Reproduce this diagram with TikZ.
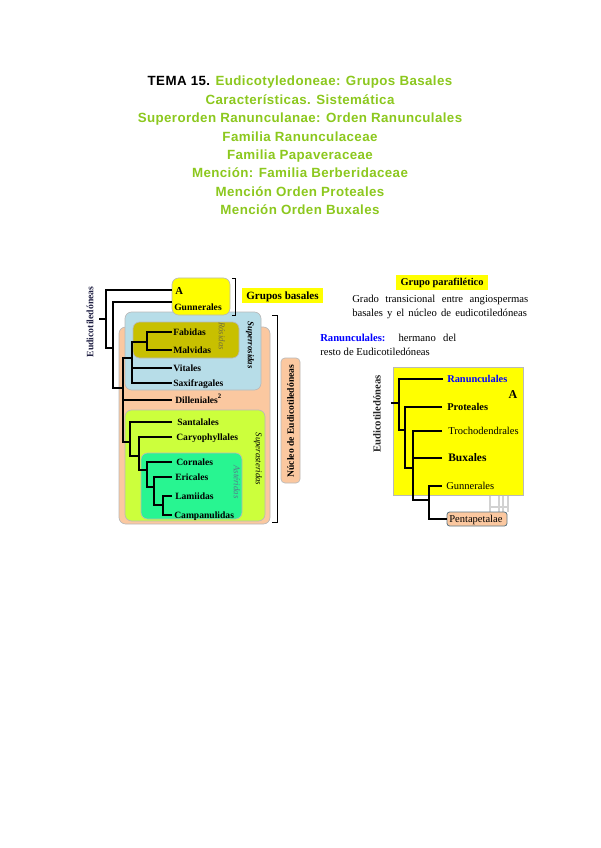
\documentclass[tikz,border=0pt]{standalone}
\usepackage{fontspec}
\setmainfont{Liberation Serif}
\newfontfamily\titlefont[LetterSpace=3]{Liberation Sans}
\definecolor{tgreen}{RGB}{140,200,30}
\definecolor{salmon}{RGB}{251,200,160}
\definecolor{lblue}{RGB}{183,221,232}
\definecolor{olive}{RGB}{200,192,0}
\definecolor{lime}{RGB}{204,255,60}
\definecolor{sgreen}{RGB}{40,245,145}
\definecolor{byellow}{RGB}{255,255,0}
\definecolor{navyd}{RGB}{35,35,70}
\definecolor{rostext}{RGB}{115,112,60}
\definecolor{asttext}{RGB}{85,120,140}
\begin{document}
\begin{tikzpicture}[x=0.75pt,y=-0.75pt,
  title/.style={anchor=base,inner sep=0,font=\titlefont\bfseries\fontsize{10}{12}\selectfont,text=tgreen},
  lbl/.style={anchor=base west,inner sep=0,font=\bfseries\fontsize{7.2}{8}\selectfont},
  rlbl/.style={anchor=base west,inner sep=0,font=\fontsize{7.9}{9}\selectfont},
  para/.style={anchor=base west,inner sep=0,font=\fontsize{8}{9}\selectfont},
  rot/.style={inner sep=0,font=\itshape\fontsize{6.6}{7}\selectfont},
  box/.style={draw=gray!55,line width=0.5pt,rounded corners=5pt},
  br/.style={line width=0.8pt,black}]
\useasboundingbox (0,0) rectangle (600,848);
\fill[white] (0,0) rectangle (600,848);

% ---------- title ----------
\node[title] (t1) at (300,85.7) {\textcolor{black}{TEMA 15.} Eudicotyledoneae: Grupos Basales};
\node[title] (t2) at (300,104.2) {Características. Sistemática};
\node[title] (t3) at (300,122.6) {Superorden Ranunculanae: Orden Ranunculales};
\node[title] (t4) at (300,141.1) {Familia Ranunculaceae};
\node[title] (t5) at (300,159.5) {Familia Papaveraceae};
\node[title] (t6) at (300,178.0) {Mención: Familia Berberidaceae};
\node[title] (t7) at (300,196.5) {Mención Orden Proteales};
\node[title] (t8) at (300,215.0) {Mención Orden Buxales};

% ---------- left diagram boxes ----------
\draw[box,fill=salmon] (119,327) rectangle (270,524);
\draw[box,fill=lblue] (125,312) rectangle (261,390);
\draw[box,fill=olive] (133,322) rectangle (239,358);
\draw[box,fill=lime] (125,410) rectangle (265,521);
\draw[box,fill=sgreen] (141,453) rectangle (242,519);
\draw[box,fill=byellow] (172,278) rectangle (230,315);
\node[fill=byellow,minimum width=60.75pt,minimum height=11.25pt,inner sep=0] (gb) at (282.5,295.5) {};
\node[anchor=base,inner sep=0,font=\bfseries\fontsize{8.3}{9}\selectfont] at (282.5,299) {Grupos basales};
\draw[box,fill=salmon,rounded corners=3pt] (281,358) rectangle (300,483);

% brackets
\draw[line width=0.7pt] (232,278) -- (235,278) -- (235,315) -- (232,315);
\draw[line width=0.7pt] (272,315) -- (277,315) -- (277,522) -- (272,522);

% rotated labels
\node[inner sep=0,rotate=90,font=\bfseries\fontsize{7.3}{8}\selectfont,text=navyd] (eud) at (90,322) {Eudicotiledóneas};
\node[rot,rotate=-90,text=rostext] (ros) at (222,336) {Rósidas};
\node[rot,rotate=-90,font=\bfseries\itshape\fontsize{6.6}{7}\selectfont] (sros) at (250,345) {Superrosidas};
\node[rot,rotate=-90] (sast) at (258,459) {Superasteridas};
\node[rot,rotate=-90,text=asttext] (ast) at (237,482) {Astéridas};
\node[inner sep=0,rotate=90,font=\bfseries\fontsize{7.2}{8}\selectfont] (nuc) at (290.5,421) {Núcleo de Eudicotiledóneas};

% ---------- left tree ----------
\coordinate (rootL) at (99,319);
\draw[br] (rootL) -- (106,319);
\draw[br] (172,290) -- (106,290) -- (106,348) -- (113,348);
\draw[br] (172,302) -- (113,302) -- (113,388) -- (123,388);
\draw[br] (132,358) -- (123,358) -- (123,442) -- (130,442);
\draw[br] (123,400) -- (172,400);
\draw[br] (147,342) -- (132,342) -- (132,383) -- (172,383);
\draw[br] (132,368) -- (172,368);
\draw[br] (172,332) -- (147,332) -- (147,350) -- (172,350);
\draw[br] (172,422) -- (130,422) -- (130,456) -- (139,456);
\draw[br] (172,437) -- (139,437) -- (139,470) -- (147,470);
\draw[br] (172,462) -- (147,462) -- (147,487) -- (154,487);
\draw[br] (172,477) -- (154,477) -- (154,505) -- (163,505);
\draw[br] (172,496) -- (163,496) -- (163,515) -- (172,515);

% left labels
\node[lbl,font=\bfseries\fontsize{8}{9}\selectfont] (A1) at (175,294) {A};
\node[lbl] (gun) at (174,310) {Gunnerales};
\node[lbl] (fab) at (173,335) {Fabidas};
\node[lbl] (mal) at (173,353) {Malvidas};
\node[lbl] (vit) at (173,371) {Vitales};
\node[lbl] (sax) at (173,386) {Saxifragales};
\node[lbl] (dil) at (175,403) {Dilleniales\textsuperscript{2}};
\node[lbl] (san) at (177,425) {Santalales};
\node[lbl] (car) at (176,440) {Caryophyllales};
\node[lbl] (cor) at (176,465) {Cornales};
\node[lbl] (eri) at (175,480) {Ericales};
\node[lbl] (lam) at (175,499) {Lamiidas};
\node[lbl] (cam) at (174,518) {Campanulidas};

% ---------- right texts ----------
\node[fill=byellow,minimum width=69pt,minimum height=11.5pt,inner sep=0] (gp) at (442,282.5) {};
\node[anchor=base,inner sep=0,font=\bfseries\fontsize{7.8}{8}\selectfont] at (442,285.8) {Grupo parafilético};
\node[para] (p1) at (352,302.3) {\makebox[132pt][s]{Grado transicional entre angiospermas}};
\node[para] (p2) at (352,316.7) {\makebox[131pt][s]{basales y el núcleo de eudicotiledóneas}};
\node[para] (p3) at (320,341.7) {\makebox[102pt][s]{\textcolor{blue}{\bfseries Ranunculales:} hermano del}};
\node[para] (p4) at (320,355.7) {resto de Eudicotiledóneas};

% ---------- right diagram ----------
\draw[draw=gray!35,line width=0.8pt] (490,495) -- (490,512) (499,495) -- (499,512) (503,495) -- (503,512) (508,495) -- (508,512) (490,507) -- (508,507);
\draw[draw=gray!55,line width=0.5pt,fill=byellow] (393,367) rectangle (523,495);
\draw[fill=salmon,draw=gray!50!cyan!60!black,line width=0.6pt,rounded corners=2pt] (447,512) rectangle (507,526);
\node[inner sep=0,rotate=90,font=\bfseries\fontsize{8}{9}\selectfont,text=black!85] (eud2) at (377,414) {Eudicotiledóneas};
\node[anchor=base,inner sep=0,font=\bfseries\fontsize{9}{10}\selectfont] (A2) at (513,398) {A};

\coordinate (rootR) at (391,403);
\draw[br] (rootR) -- (399,403);
\draw[br] (443,379) -- (399,379) -- (399,430) -- (405,430);
\draw[br] (442,407) -- (405,407) -- (405,468) -- (413,468);
\draw[br] (442,431) -- (413,431) -- (413,500) -- (429,500);
\draw[br] (442,458) -- (413,458);
\draw[br] (442,486) -- (429,486) -- (429,519) -- (447,519);

\node[rlbl,font=\bfseries\fontsize{7.8}{9}\selectfont,text=blue] (ran) at (447,382) {Ranunculales};
\node[rlbl,font=\bfseries\fontsize{7.8}{9}\selectfont] (pro) at (447,410) {Proteales};
\node[rlbl] (tro) at (448,434) {Trochodendrales};
\node[rlbl,font=\bfseries\fontsize{8.6}{9}\selectfont] (bux) at (448,461.5) {Buxales};
\node[rlbl] (gun2) at (446,489) {Gunnerales};
\node[rlbl] (pen) at (449,522.5) {Pentapetalae};
\end{tikzpicture}
\end{document}
